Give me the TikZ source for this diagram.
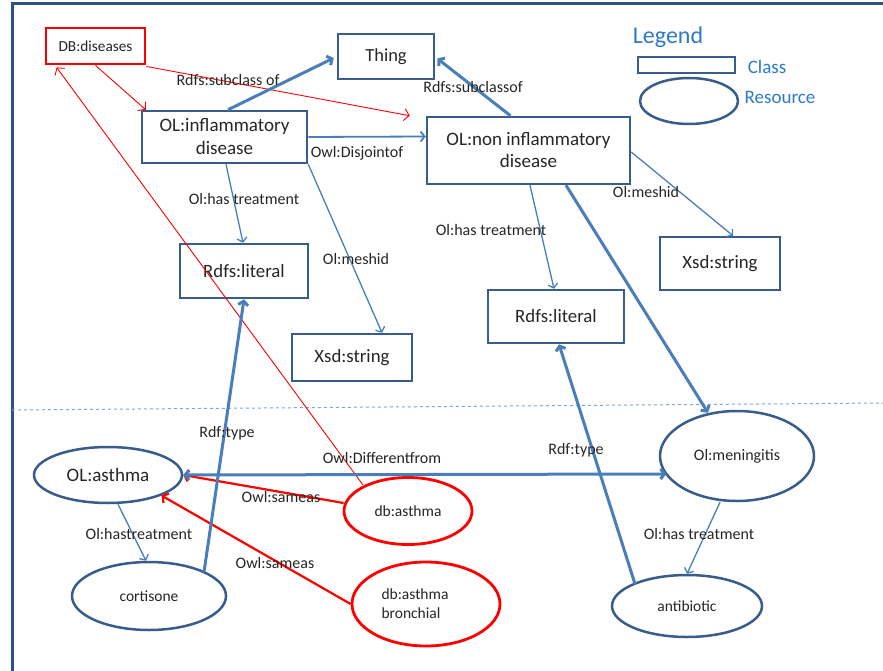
\documentclass[tikz,border=0pt]{standalone}
\usepackage{fontspec}
\setmainfont{Carlito}
\usetikzlibrary{arrows.meta,shapes.geometric,calc}
\definecolor{boxblue}{HTML}{385D8A}
\definecolor{lineblue}{HTML}{4A7EBB}
\definecolor{legblue}{HTML}{2E7BC4}
\definecolor{dotblue}{HTML}{7FA6D6}
\definecolor{frameblue}{HTML}{2F5286}
\definecolor{txt}{HTML}{262626}
\begin{document}
\begin{tikzpicture}[x=1pt,y=-1pt,
  cls/.style={draw=boxblue, line width=2.5pt, rectangle, inner sep=0pt, text=txt, align=center, font=\fontsize{18.8}{22}\selectfont},
  res/.style={draw=boxblue, line width=2.5pt, ellipse, inner sep=0pt, text=txt, align=left, font=\fontsize{15.5}{19}\selectfont},
  dbcls/.style={cls, draw=red, line width=2.8pt},
  dbres/.style={res, draw=red, line width=2.8pt},
  lbl/.style={font=\fontsize{16}{18}\selectfont, text=txt, inner sep=0pt},
  leg/.style={text=legblue, inner sep=0pt},
  thinarr/.style={draw=lineblue, line width=1.3pt, -{Straight Barb[length=4pt,width=10pt]}},
  midarr/.style={draw=lineblue, line width=1.8pt, -{Straight Barb[length=4pt,width=10pt]}},
  thickarr/.style={draw=lineblue, line width=3pt, -{Straight Barb[length=4pt,width=10pt]}},
  redthin/.style={draw=red, line width=0.9pt, -{Straight Barb[length=5pt,width=12pt]}},
  redthick/.style={draw=red, line width=2.2pt, -{Straight Barb[length=4pt,width=11pt]}}
]
\fill[white] (0,0) rectangle (883,671);
\useasboundingbox (0,0) rectangle (883,671);

% frame and separator
\coordinate (fTR) at (883,4);
\coordinate (fTL) at (12,4);
\coordinate (fBL) at (12,671);
\draw[frameblue, line width=3pt] (fTR) -- (fTL) -- (fBL);
\coordinate (sepL) at (12,410);
\coordinate (sepR) at (883,403);
\draw[dotblue, line width=1pt, dash pattern=on 3pt off 3pt] (sepL) -- (sepR);

% class nodes
\node[dbcls, minimum width=99pt, minimum height=36pt, font=\fontsize{15.3}{18}\selectfont] (db) at (95.5,46) {DB:diseases};
\node[cls, minimum width=96pt, minimum height=45pt, font=\fontsize{18.5}{22}\selectfont] (thing) at (386,56.5) {Thing};
\node[cls, minimum width=165pt, minimum height=52pt, font=\fontsize{19}{23}\selectfont] (inf) at (224.5,137) {OL:inflammatory\\disease};
\node[cls, minimum width=203pt, minimum height=67pt, font=\fontsize{19}{22}\selectfont] (non) at (528.5,150.5) {OL:non inflammatory\\disease};
\node[cls, minimum width=128pt, minimum height=54pt] (lit1) at (244,271) {Rdfs:literal};
\node[cls, minimum width=120pt, minimum height=47pt] (xsd1) at (352,357.5) {Xsd:string};
\node[cls, minimum width=136pt, minimum height=53pt] (lit2) at (556,316.5) {Rdfs:literal};
\node[cls, minimum width=120pt, minimum height=53pt] (xsd2) at (720,263.5) {Xsd:string};

% legend
\node[leg, font=\fontsize{24}{28}\selectfont] (legt) at (668,37) {Legend};
\node[draw=boxblue, line width=2.5pt, rectangle, minimum width=97pt, minimum height=16pt, inner sep=0pt] (legc) at (686.5,65) {};
\node[leg, font=\fontsize{19}{22}\selectfont] (legct) at (767,67) {Class};
\node[draw=boxblue, line width=2.5pt, ellipse, minimum width=98pt, minimum height=46pt, inner sep=0pt] (legr) at (689,101) {};
\node[leg, font=\fontsize{19}{22}\selectfont] (legrt) at (780,97) {Resource};

% resource nodes
\node[res, minimum width=148pt, minimum height=56pt, font=\fontsize{19}{22}\selectfont] (asth) at (108,475) {OL:asthma};
\node[res, minimum width=154pt, minimum height=68pt] (cort) at (149,596) {cortisone};
\node[dbres, minimum width=128pt, minimum height=67pt, font=\fontsize{15.5}{18}\selectfont] (dbas) at (408,511) {db:asthma};
\node[dbres, minimum width=148pt, minimum height=84pt, font=\fontsize{15.5}{19}\selectfont] (dbab) at (426,604) {db:asthma\hspace*{22pt}\\bronchial};
\node[res, minimum width=154pt, minimum height=90pt, font=\fontsize{16}{19}\selectfont] (men) at (737,456) {Ol:meningitis};
\node[res, minimum width=150pt, minimum height=62pt] (anti) at (687,606) {antibiotic};

% red connectors
\draw[redthin] (db.south) -- ($(inf.north west)+(5,0)$);
\draw[redthin] ($(db.south east)+(0,1)$) -- ($(non.north west)+(-16,0)$);
\draw[redthin] ($(dbas.center)+(-45,-26)$) -- ($(db.south west)+(12,2)$);
\draw[redthick] ($(dbas.west)+(1,-8)$) -- (asth.east);
\draw[redthick] (dbab.west) -- (asth.-21);

% blue connectors
\draw[thickarr] ($(inf.north)+(3.5,0)$) -- ($(thing.west)+(-3,1.5)$);
\draw[thickarr] ($(non.north)+(-18,0)$) -- ($(thing.east)+(2,2)$);
\draw[midarr] (inf.east) -- ($(non.west)+(0,-14)$);
\draw[thinarr] ($(inf.south)+(1.5,0)$) -- ($(lit1.north)+(-1,0)$);
\draw[thinarr] (inf.south east) -- ($(xsd1.north)+(30,0)$);
\draw[thinarr] ($(non.south)+(1.5,0)$) -- ($(lit2.north)+(-2,0)$);
\draw[thinarr] ($(non.east)+(0,1.5)$) -- ($(xsd2.north)+(13,0)$);
\draw[thickarr] ($(non.south)+(37.5,0)$) -- ($(men.north)+(-29,3)$);
\draw[thickarr] ($(cort.center)+(55,-24)$) -- (lit1.south);
\draw[thickarr] ($(anti.center)+(-52,-22)$) -- ($(lit2.south)+(3,0)$);
\draw[thickarr, {Straight Barb[length=4pt,width=10pt]}-{Straight Barb[length=4pt,width=10pt]}] (asth.east) -- ($(men.center)+(-70.6,18)$);
\draw[thinarr] ($(asth.south)+(10,0)$) -- ($(cort.north)+(-3,0)$);
\draw[thinarr] ($(men.south)+(-17,0)$) -- (anti.north);

% labels
\node[lbl] (l1) at (228,80) {Rdfs:subclass of};
\node[lbl] (l2) at (357,153) {Owl:Disjointof};
\node[lbl] (l3) at (473,87) {Rdfs:subclassof};
\node[lbl] (l4) at (244,199) {Ol:has treatment};
\node[lbl] (l5) at (356,259) {Ol:meshid};
\node[lbl] (l6) at (646,192) {Ol:meshid};
\node[lbl] (l7) at (491,230) {Ol:has treatment};
\node[lbl] (l8) at (227,433) {Rdf:type};
\node[lbl] (l9) at (382,458) {Owl:Differentfrom};
\node[lbl] (l10) at (281,497) {Owl:sameas};
\node[lbl] (l11) at (275,563) {Owl:sameas};
\node[lbl] (l12) at (139,534) {Ol:hastreatment};
\node[lbl] (l13) at (576,450) {Rdf:type};
\node[lbl] (l14) at (699,534) {Ol:has treatment};
\end{tikzpicture}
\end{document}
